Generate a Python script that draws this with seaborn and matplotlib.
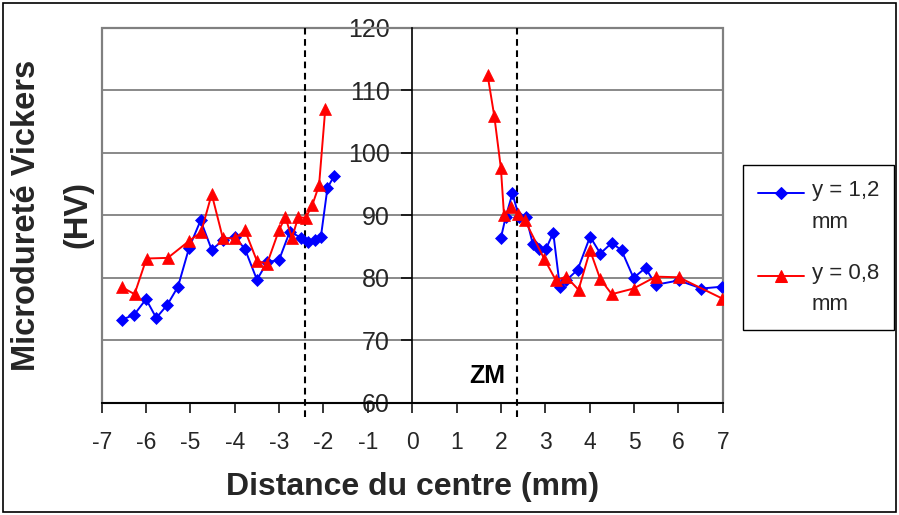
import matplotlib
matplotlib.use("Agg")
import matplotlib.pyplot as plt
import seaborn as sns
import pandas as pd
from matplotlib.patches import Rectangle
from matplotlib.legend_handler import HandlerLine2D
from matplotlib.transforms import Affine2D

# ---------------- data ----------------
series_names = ["y = 1,2\nmm", "y = 0,8\nmm"]

blue_left_x = [-6.55, -6.27, -6.0, -5.77, -5.52, -5.28, -5.03, -4.77, -4.52, -4.27,
               -4.0, -3.77, -3.5, -3.27, -3.0, -2.76, -2.5, -2.35, -2.2, -2.06, -1.91, -1.76]
blue_left_hv = [73.3, 74.1, 76.6, 73.6, 75.7, 78.6, 84.8, 89.2, 84.5, 86.0,
                86.6, 84.6, 79.7, 82.5, 82.9, 87.4, 86.4, 85.7, 86.1, 86.5, 94.4, 96.3]

blue_right_x = [2.0, 2.11, 2.26, 2.41, 2.57, 2.72, 2.86, 3.02, 3.18, 3.33, 3.47, 3.73,
                4.01, 4.24, 4.5, 4.72, 4.99, 5.26, 5.49, 6.01, 6.52, 6.99, 7.5]
blue_right_hv = [86.4, 89.8, 93.5, 89.7, 89.7, 85.4, 84.7, 84.7, 87.2, 78.5, 79.6, 81.3,
                 86.6, 83.9, 85.6, 84.4, 80.0, 81.6, 78.9, 79.6, 78.3, 78.6, 78.6]

red_left_x = [-6.54, -6.26, -5.99, -5.51, -5.03, -4.76, -4.52, -4.27, -4.0, -3.77,
              -3.5, -3.27, -3.0, -2.86, -2.71, -2.57, -2.4, -2.25, -2.1, -1.96]
red_left_hv = [78.5, 77.4, 83.1, 83.2, 85.9, 87.3, 93.4, 86.4, 86.3, 87.6,
               82.7, 82.3, 87.7, 89.7, 86.4, 89.7, 89.6, 91.7, 94.8, 107.0]

red_right_x = [1.70, 1.85, 2.0, 2.07, 2.23, 2.38, 2.54, 2.98, 3.24, 3.47, 3.75,
               4.01, 4.24, 4.5, 4.99, 5.49, 6.01, 6.99, 7.5]
red_right_hv = [112.4, 105.9, 97.5, 90.0, 91.3, 90.2, 89.2, 83.0, 79.6, 80.2, 78.1,
                84.4, 79.8, 77.4, 78.3, 80.2, 80.1, 76.7, 78.3]

x_ticks = list(range(-7, 8))
y_ticks = [60, 70, 80, 90, 100, 110, 120]
zone_bounds = [-2.42, 2.37]
zone_label = "ZM"
x_title = "Distance du centre (mm)"
y_title = "Microdureté Vickers\n(HV)"

# ---------------- table ----------------
parts = [
    (blue_left_x, blue_left_hv, series_names[0], "left"),
    (blue_right_x, blue_right_hv, series_names[0], "right"),
    (red_left_x, red_left_hv, series_names[1], "left"),
    (red_right_x, red_right_hv, series_names[1], "right"),
]
rows = []
for xs, ys, s, side in parts:
    for xv, yv in zip(xs, ys):
        rows.append({"x": xv, "hv": yv, "series": s, "side": side})
df = pd.DataFrame(rows)

# ---------------- style ----------------
sns.set_style("white")
plt.rcParams["font.family"] = ["Liberation Sans", "DejaVu Sans"]

colors = {series_names[0]: "#0000FF", series_names[1]: "#FF0000"}
markers = {series_names[0]: "D", series_names[1]: "^"}
msizes = {"D": 6.0, "^": 9.0}

fig = plt.figure(figsize=(8.99, 5.15), dpi=100)
ax = fig.add_axes([101.7 / 899, 1 - 403 / 515, 621 / 899, 375.3 / 515])

sns.lineplot(data=df, x="x", y="hv", hue="series", style="series", units="side",
             estimator=None, sort=False, markers=markers,
             dashes={series_names[0]: "", series_names[1]: ""},
             palette=colors, linewidth=1.4, ax=ax)

for ln in ax.lines:
    m = ln.get_marker()
    if m in msizes:
        ln.set_markersize(msizes[m])
        ln.set_markeredgecolor(ln.get_color())
        ln.set_markerfacecolor(ln.get_color())
        ln.set_markeredgewidth(0.5)

ax.set_xlim(-7, 7)
ax.set_ylim(60, 120)
ax.set_xticks(x_ticks)
ax.set_yticks(y_ticks)
ax.set_xticklabels([str(t) for t in x_ticks])
ax.set_yticklabels([str(t) for t in y_ticks])

# grid + frame
ax.set_axisbelow(True)
ax.yaxis.grid(True, color="#808080", linewidth=1.3)
ax.xaxis.grid(False)
ax.add_patch(Rectangle((0, 0), 1, 1, transform=ax.transAxes, fill=False,
                       edgecolor="#808080", linewidth=1.6, clip_on=False, zorder=0.6))
for s in ["top", "right"]:
    ax.spines[s].set_visible(False)
ax.spines["left"].set_position(("data", 0))
ax.spines["left"].set_color("black")
ax.spines["left"].set_linewidth(1.2)
ax.spines["bottom"].set_color("black")
ax.spines["bottom"].set_linewidth(1.4)

ax.tick_params(axis="x", bottom=True, direction="out", length=7, width=1.1,
               color="black", labelsize=16.5, pad=13)
ax.tick_params(axis="y", left=True, direction="out", length=8, width=1.1,
               color="black", labelsize=18, pad=8)

# zone boundaries
for b in zone_bounds:
    ax.plot([b, b], [57.8, 120], color="black", linewidth=1.5,
            linestyle=(0, (3.2, 2.2)), clip_on=False, zorder=1.5)

ax.text(1.7, 64.3, zone_label, ha="center", va="center", fontsize=18,
        fontweight="bold", color="black")

ax.set_xlabel(x_title, fontsize=23, fontweight="bold", labelpad=13)
ax.set_ylabel("")
fig.text(52 / 899, 1 - 215 / 515, y_title, rotation=90, ha="center", va="center",
         fontsize=23.5, fontweight="bold", linespacing=1.85, multialignment="center")


# legend: handle aligned with the first text line
class FirstLineHandler(HandlerLine2D):
    def __init__(self, shift, **kw):
        super().__init__(**kw)
        self.shift = shift

    def create_artists(self, legend, orig_handle, xdescent, ydescent, width,
                       height, fontsize, trans):
        t = Affine2D().translate(0, self.shift) + trans
        return super().create_artists(legend, orig_handle, xdescent, ydescent,
                                      width, height, fontsize, t)


leg_fs = 16
leg_ls = 1.65
old = ax.get_legend()
handles = list(old.legend_handles)
labels = [t.get_text() for t in old.get_texts()]
old.remove()
for h in handles:
    m = h.get_marker()
    if m in msizes:
        h.set_markersize(msizes[m] * 0.95)
        h.set_markeredgecolor(h.get_color())
        h.set_markerfacecolor(h.get_color())
    h.set_linewidth(1.4)
shift_pt = 0.5 * leg_ls * 0.73 * leg_fs
leg = ax.legend(handles, labels, loc="upper left",
                bbox_to_anchor=(742.7 / 899, 1 - 165 / 515),
                bbox_transform=fig.transFigure, borderaxespad=0, fontsize=leg_fs,
                frameon=True, fancybox=False, edgecolor="black", framealpha=1,
                borderpad=0.68, handlelength=2.1, handletextpad=0.32,
                labelspacing=1.35, numpoints=1,
                handler_map={h: FirstLineHandler(shift_pt) for h in handles})
leg.get_frame().set_linewidth(1.0)
for t in leg.get_texts():
    t.set_linespacing(leg_ls)

# outer border
fig.add_artist(Rectangle((3 / 899, 3 / 515), 893 / 899, 509 / 515,
                         transform=fig.transFigure, fill=False,
                         edgecolor="black", linewidth=1.2))

fig.savefig("out.png", dpi=100)
